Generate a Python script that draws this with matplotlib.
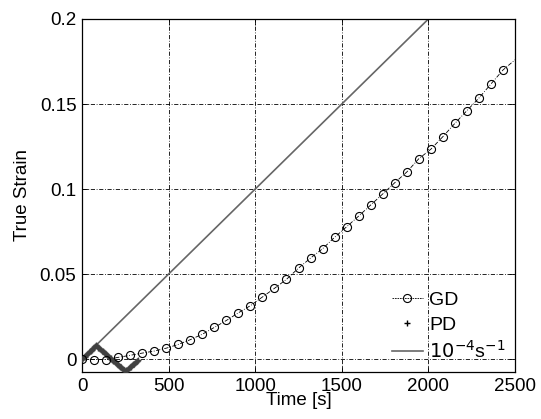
import matplotlib
matplotlib.use("Agg")
import matplotlib.pyplot as plt
from matplotlib.lines import Line2D

plt.rcParams['font.family'] = ['Liberation Sans', 'DejaVu Sans']

# GD: markers every 2500/36 s
gd_time = [i * 2500.0 / 36 for i in range(36)] + [2500.0]
gd_strain = [0.0, -0.0003, -0.0003, 0.001, 0.0022, 0.0035, 0.0047, 0.0064,
             0.0086, 0.0114, 0.0146, 0.0186, 0.0227, 0.0272, 0.0314, 0.0365,
             0.0416, 0.0469, 0.0535, 0.0594, 0.0649, 0.0716, 0.0778, 0.0841,
             0.0906, 0.0971, 0.1037, 0.1100, 0.1178, 0.1234, 0.1308, 0.1386,
             0.1461, 0.1535, 0.1618, 0.1700, 0.1760]

# PD: dense cyclic record near the origin (every 5 s)
pd_time = [0, 5, 10, 15, 20, 25, 30, 35, 40, 45, 50, 55, 60, 65, 70, 75, 80,
           85, 90, 95, 100, 105, 110, 115, 120, 125, 130, 135, 140, 145, 150,
           155, 160, 165, 170, 175, 180, 185, 190, 195, 200, 205, 210, 215,
           220, 225, 230, 235, 240, 245, 250, 255, 260, 265, 270, 275, 280,
           285, 290, 295, 300, 305, 310, 315, 320, 325]
pd_strain = [0.0, 0.0005, 0.001, 0.0015, 0.002, 0.0025, 0.003, 0.0035, 0.004,
             0.0045, 0.005, 0.0055, 0.006, 0.0065, 0.007, 0.0075, 0.008,
             0.0076, 0.0072, 0.0067, 0.0063, 0.0058, 0.0054, 0.0049, 0.0045,
             0.004, 0.0036, 0.0031, 0.0027, 0.0022, 0.0018, 0.0013, 0.0009,
             0.0004, 0.0, -0.0004, -0.0009, -0.0013, -0.0018, -0.0022,
             -0.0027, -0.0031, -0.0036, -0.004, -0.0045, -0.0049, -0.0054,
             -0.0058, -0.0063, -0.0067, -0.0072, -0.0067, -0.0063, -0.0058,
             -0.0054, -0.0049, -0.0045, -0.004, -0.0036, -0.0031, -0.0027,
             -0.0022, -0.0018, -0.0013, -0.0009, -0.0005]

# reference strain rate 1e-4 /s
ref_time = [0, 2000]
ref_strain = [0.0, 0.2]

fig = plt.figure(figsize=(5.41, 4.19), dpi=100)
ax = fig.add_axes([0.1516, 0.1122, 0.8004, 0.8425])

ax.plot(gd_time[:-1], gd_strain[:-1], 'o', mfc='none', mec='k', ms=5.8, mew=0.8,
        label='GD', zorder=4)
ax.plot(gd_time, gd_strain, color='k', lw=0.6, ls=(0, (5, 2, 1, 2)), zorder=3)
ax.plot(pd_time, pd_strain, '+', color='0.25', ms=4.5, mew=1.0, ls='none',
        label='PD', zorder=3)
ax.plot(ref_time, ref_strain, '-', color='0.4', lw=1.2,
        label=r'$10^{-4}$s$^{-1}$', zorder=2)

ax.set_xlim(0, 2500)
ax.set_ylim(-0.0076, 0.2)
ax.set_xticks([0, 500, 1000, 1500, 2000, 2500])
ax.set_yticks([0, 0.05, 0.1, 0.15, 0.2])
ax.set_yticklabels(['0', '0.05', '0.1', '0.15', '0.2'])
ax.tick_params(direction='in', top=True, right=True, labelsize=13.5,
               length=4, width=0.6, pad=4)
ax.grid(True, color='k', lw=0.6, ls=(0, (5, 2, 1, 2)))
for s in ax.spines.values():
    s.set_linewidth(0.9)

ax.set_xlabel('Time [s]', fontsize=13.5, labelpad=-2)
ax.set_ylabel('True Strain', fontsize=13.5, labelpad=6)

# legend in the style of the original, without a frame
handles = [Line2D([], [], color='k', lw=0.6, ls=(0, (2, 1)), marker='o',
                  mfc='none', mec='k', ms=5.8, mew=0.8),
           Line2D([], [], ls='none', marker='+', color='k', ms=4),
           Line2D([], [], color='0.4', lw=1.2)]
ax.legend(handles, ['GD', 'PD', r'$10^{-4}$s$^{-1}$'], loc='lower right',
          frameon=False, fontsize=14, handlelength=1.6, handletextpad=0.3,
          labelspacing=0.35, borderaxespad=0.1)

fig.savefig('out.png', dpi=100)
